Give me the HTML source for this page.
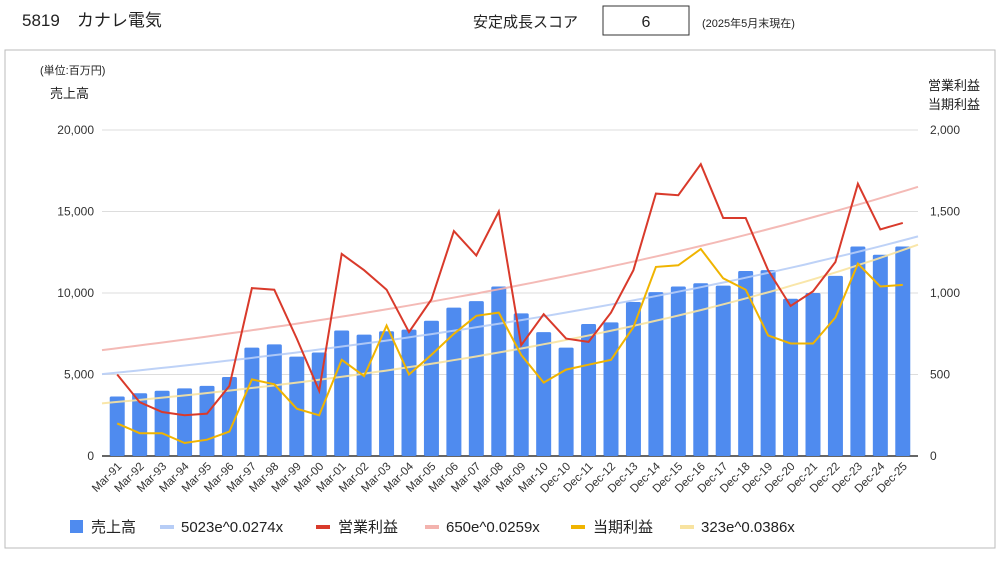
<!DOCTYPE html>
<html><head><meta charset="utf-8">
<style>
body{margin:0;background:#fff;width:1000px;height:559px;overflow:hidden;font-family:"Liberation Sans","Noto Sans CJK JP",sans-serif;}
</style></head><body>
<svg id="c" width="1000" height="559" xmlns="http://www.w3.org/2000/svg" style="font-family:'Liberation Sans','Noto Sans CJK JP',sans-serif">
<text x="22" y="26" font-size="17" fill="#222">5819　カナレ電気</text>
<text x="473" y="27" font-size="15" fill="#222">安定成長スコア</text>
<rect x="603" y="6" width="86" height="29" fill="#fff" stroke="#333"/>
<text x="646" y="27" font-size="16" text-anchor="middle" fill="#222">6</text>
<text x="702" y="27" font-size="11" fill="#222">(2025年5月末現在)</text>
<rect x="5" y="50" width="990" height="498" fill="none" stroke="#bbb"/>
<text x="40" y="74" font-size="11" fill="#222">(単位:百万円)</text>
<text x="50" y="98" font-size="13" fill="#222">売上高</text>
<text x="980" y="90" font-size="13" fill="#222" text-anchor="end">営業利益</text>
<text x="980" y="109" font-size="13" fill="#222" text-anchor="end">当期利益</text>
<g id="plot"></g>
<g id="legend" font-size="15" fill="#222">
<rect x="70" y="520" width="13" height="13" fill="#4f8bef"/>
<text x="91" y="532">売上高</text>
<rect x="160" y="525" width="14" height="4" fill="#b7cdf6"/>
<text x="181" y="532">5023e^0.0274x</text>
<rect x="316" y="525" width="14" height="4" fill="#d93a2b"/>
<text x="338" y="532">営業利益</text>
<rect x="425" y="525" width="14" height="4" fill="#f3b3ae"/>
<text x="446" y="532">650e^0.0259x</text>
<rect x="571" y="525" width="14" height="4" fill="#f0b400"/>
<text x="593" y="532">当期利益</text>
<rect x="680" y="525" width="14" height="4" fill="#f8e3a0"/>
<text x="701" y="532">323e^0.0386x</text>
</g>
</svg>
<script>
const categories=["Mar-91","Mar-92","Mar-93","Mar-94","Mar-95","Mar-96","Mar-97","Mar-98","Mar-99","Mar-00","Mar-01","Mar-02","Mar-03","Mar-04","Mar-05","Mar-06","Mar-07","Mar-08","Mar-09","Mar-10","Dec-10","Dec-11","Dec-12","Dec-13","Dec-14","Dec-15","Dec-16","Dec-17","Dec-18","Dec-19","Dec-20","Dec-21","Dec-22","Dec-23","Dec-24","Dec-25"];
const sales=[3650,3850,4000,4150,4300,4850,6650,6850,6100,6350,7700,7450,7650,7750,8300,9100,9500,10400,8750,7600,6650,8100,8200,9450,10050,10400,10600,10450,11350,11400,9650,10000,11050,12850,12350,12850];
const opProfit=[500,330,270,250,260,430,1030,1020,720,400,1240,1140,1020,760,960,1380,1230,1500,680,870,720,700,880,1140,1610,1600,1790,1460,1460,1140,920,1010,1190,1670,1390,1430];
const netProfit=[200,140,140,80,100,150,470,440,290,250,590,490,800,500,620,750,860,880,620,450,530,560,590,790,1160,1170,1270,1090,1020,740,690,690,850,1180,1040,1050];
const leftTicks=[0,5000,10000,15000,20000];
const rightTicks=[0,500,1000,1500,2000];
const trends=[[5023,0.0274,'L','#b7cdf6','sales-trendline'],[650,0.0259,'R','#f3b3ae','op-trendline'],[323,0.0386,'R','#f8e3a0','net-trendline']];
const NS='http://www.w3.org/2000/svg';
const g=document.getElementById('plot');
const X0=102,X1=918,BX0=106,BX1=914,Y0=456,Y1=130;
const step=(BX1-BX0)/categories.length;
const xs=i=>BX0+step*(i+0.5);
const yL=v=>Y0-(v/20000)*(Y0-Y1);
const yR=v=>Y0-(v/2000)*(Y0-Y1);
function mk(t,a){const e=document.createElementNS(NS,t);for(const k in a)e.setAttribute(k,a[k]);g.appendChild(e);return e;}
leftTicks.forEach((v,i)=>{
  const l=mk('line',{x1:X0,x2:X1,y1:yL(v),y2:yL(v),stroke:i==0?'#333':'#ddd','stroke-width':i==0?1.5:1});
  
  
  const t=mk('text',{x:X0-8,y:yL(v)+4,'text-anchor':'end','font-size':12,fill:'#333'});
  t.textContent=v.toLocaleString('en-US');
  
  
});
rightTicks.forEach(v=>{
  const t=mk('text',{x:X1+12,y:yR(v)+4,'font-size':12,fill:'#333'});
  t.textContent=v.toLocaleString('en-US');
  
  
});
sales.forEach((v,i)=>{
  const b=mk('rect',{x:xs(i)-7.5,y:yL(v),width:15,height:Y0-yL(v),fill:'#4f8bef',rx:1.5});
  
  
});
categories.forEach((c,i)=>{
  const t=mk('text',{x:xs(i)+5,y:Y0+11,'text-anchor':'end','font-size':11.5,fill:'#333',transform:`rotate(-45 ${xs(i)+5} ${Y0+11})`});
  t.textContent=c;
  
  
});
trends.forEach(([a,b,ax,col,nm])=>{
  let d='';
  for(let k=0;k<=72;k++){const x=k*0.5;const v=a*Math.exp(b*x);const px=X0+(X1-X0)*(x/36);const py=ax=='L'?yL(v):yR(v);d+=(k?'L':'M')+px.toFixed(1)+' '+py.toFixed(1);}
  const p=mk('path',{d,fill:'none',stroke:col,'stroke-width':2,opacity:0.9});
  
  
});
function line(arr,col,nm){
  const p=mk('polyline',{points:arr.map((v,i)=>xs(i).toFixed(1)+','+yR(v).toFixed(1)).join(' '),fill:'none',stroke:col,'stroke-width':2});
  
  
}
line(opProfit,'#d93a2b','operating-profit-line');
line(netProfit,'#f0b400','net-profit-line');
</script>
</body></html>
